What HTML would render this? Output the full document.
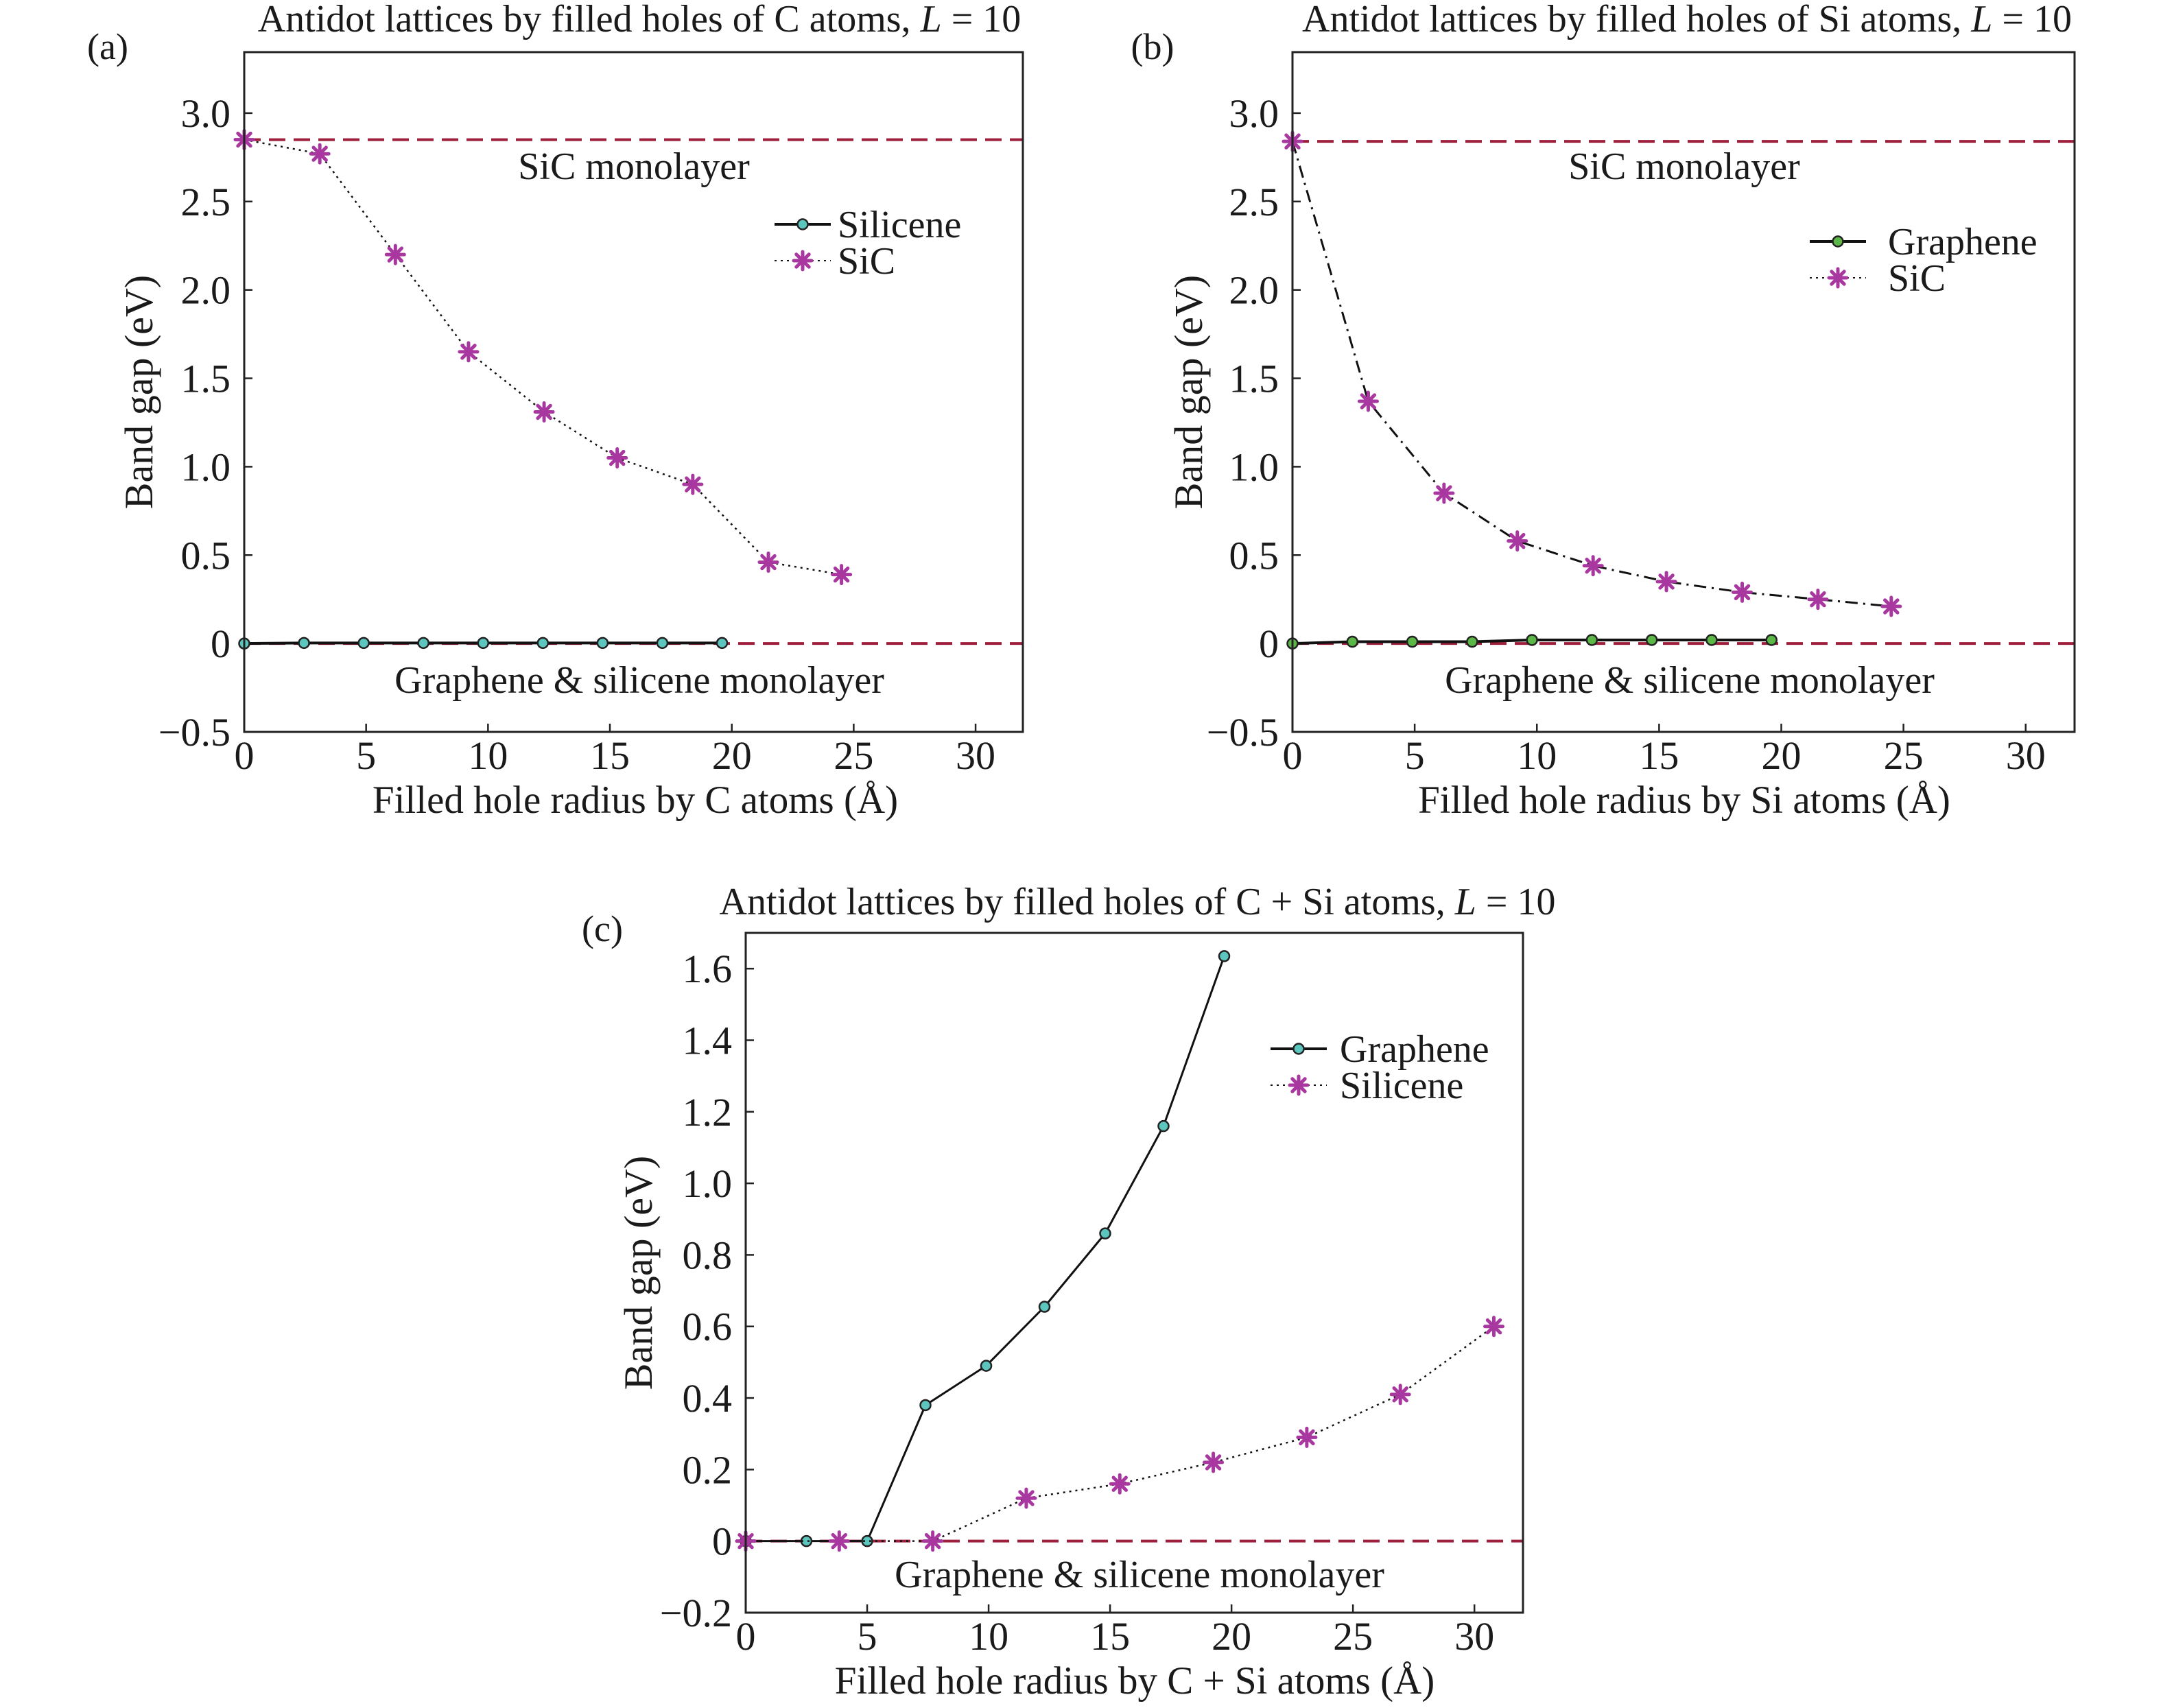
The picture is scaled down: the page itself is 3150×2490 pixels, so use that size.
<!DOCTYPE html>
<html><head><meta charset="utf-8"><style>
html,body{margin:0;padding:0;background:#fff}
svg{display:block}
text{font-family:"Liberation Serif",serif;fill:#1a1a1a}
</style></head><body>
<svg id="fig" width="3150" height="2490" viewBox="0 0 3150 2490" xmlns="http://www.w3.org/2000/svg"></svg>
<script>
// Panel (a) data
const aSilX=[0,2.45,4.9,7.35,9.8,12.25,14.7,17.15,19.6];
const aSilY=[0,0.003,0.003,0.003,0.003,0.003,0.003,0.003,0.003];
const aSicX=[0,3.1,6.2,9.2,12.3,15.3,18.4,21.5,24.5];
const aSicY=[2.85,2.77,2.20,1.65,1.31,1.05,0.90,0.46,0.39];
// Panel (b) data
const bGraX=[0,2.45,4.9,7.35,9.8,12.25,14.7,17.15,19.6];
const bGraY=[0,0.01,0.01,0.01,0.02,0.02,0.02,0.02,0.02];
const bSicX=[0,3.1,6.2,9.2,12.3,15.3,18.4,21.5,24.5];
const bSicY=[2.84,1.37,0.85,0.58,0.44,0.35,0.29,0.25,0.21];
// Panel (c) data
const cGraX=[0,2.5,5.0,7.4,9.9,12.3,14.8,17.2,19.7];
const cGraY=[0,0,0,0.38,0.49,0.655,0.86,1.16,1.635];
const cSilX=[0,3.85,7.7,11.55,15.4,19.25,23.1,26.95,30.8];
const cSilY=[0,0,0,0.12,0.16,0.22,0.29,0.41,0.60];
const xTicks=[0,5,10,15,20,25,30];
const yTicksAB=[-0.5,0,0.5,1.0,1.5,2.0,2.5,3.0];
const yTickLabAB=["\u22120.5","0","0.5","1.0","1.5","2.0","2.5","3.0"];
const yTicksC=[-0.2,0,0.2,0.4,0.6,0.8,1.0,1.2,1.4,1.6];
const yTickLabC=["\u22120.2","0","0.2","0.4","0.6","0.8","1.0","1.2","1.4","1.6"];

const NS="http://www.w3.org/2000/svg";
const svg=document.getElementById('fig');
function el(tag,attrs,parent,txt){const e=document.createElementNS(NS,tag);for(const k in attrs)e.setAttribute(k,attrs[k]);if(txt!==undefined)e.textContent=txt;(parent||svg).appendChild(e);return e;}
const RED="#9e1f3c", MAG="#a8379f";

function panel(o){
  const g=el('g',{});
  
  
  const sx=v=>o.L+(v-o.xmin)/(o.xmax-o.xmin)*(o.R-o.L);
  const sy=v=>o.B-(v-o.ymin)/(o.ymax-o.ymin)*(o.B-o.T);
  xTicks.forEach(t=>{
    const x=sx(t);
    const l=el('line',{x1:x,x2:x,y1:o.B,y2:o.B-12,stroke:'#222','stroke-width':2.5},g);
    
    const tx=el('text',{x:x,y:o.B+54,'font-size':58,'text-anchor':'middle'},g,String(t));
    
  });
  o.yt.forEach((t,i)=>{
    const y=sy(t);
    const l=el('line',{x1:o.L,x2:o.L+12,y1:y,y2:y,stroke:'#222','stroke-width':2.5},g);
    
    const tx=el('text',{x:o.L-20,y:y+20,'font-size':58,'text-anchor':'end'},g,o.ytl[i]);
    
  });
  o.refs.forEach(r=>{
    const l=el('line',{x1:o.L,x2:o.R,y1:sy(r),y2:sy(r),stroke:RED,'stroke-width':4,'stroke-dasharray':'24 12'},g);
    
  });
  o.series.forEach(s=>{
    const pts=s.x.map((v,i)=>sx(v)+','+sy(s.y[i])).join(' ');
    const pl=el('polyline',{points:pts,fill:'none',stroke:'#111','stroke-width':s.w,'stroke-dasharray':s.dash||''},g);
    
    s.x.forEach((v,i)=>{
      const m=marker(sx(v),sy(s.y[i]),s.mk,s.col,g);
      
    });
  });
  const f=el('rect',{x:o.L,y:o.T,width:o.R-o.L,height:o.B-o.T,fill:'none',stroke:'#222','stroke-width':3},g);
  
  const t=el('text',{x:o.tx,y:o.ty,'font-size':56,'text-anchor':'middle'},g);
  
  t.innerHTML=o.title+'<tspan font-style="italic">L</tspan> = 10';
  const p=el('text',{x:o.px,y:o.py,'font-size':54,'text-anchor':'middle'},g,o.plab);
  
  const yl=el('text',{x:0,y:0,'font-size':58,'text-anchor':'middle',transform:`translate(${o.ylx},${(o.T+o.B)/2}) rotate(-90)`},g,'Band gap (eV)');
  
  const xl=el('text',{x:o.xlx,y:o.B+118,'font-size':57,'text-anchor':'middle'},g,o.xlab);
  
  o.notes.forEach(n=>{
    const a=el('text',{x:n[0],y:n[1],'font-size':56,'text-anchor':'middle'},g,n[2]);
    
  });
  o.series.forEach((s,i)=>{
    const y=o.lgy+i*53;
    const lg=el('g',{},g);
    
    el('line',{x1:o.lgx,x2:o.lgx+82,y1:y,y2:y,stroke:'#111','stroke-width':s.leg?4:2,'stroke-dasharray':s.leg?'':'3 6'},lg);
    marker(o.lgx+41,y,s.mk,s.col,lg);
    el('text',{x:o.lgtx,y:y+19,'font-size':56},lg,s.label);
  });
}
function marker(x,y,type,col,parent){
  if(type==='c'){return el('circle',{cx:x,cy:y,r:7.5,fill:col,stroke:'#222','stroke-width':2.5},parent);}
  const g=el('g',{stroke:col,'stroke-width':5,'stroke-linecap':'round'},parent);
  const r=13;
  for(let k=0;k<4;k++){const a=k*Math.PI/4;el('line',{x1:x-r*Math.cos(a),y1:y-r*Math.sin(a),x2:x+r*Math.cos(a),y2:y+r*Math.sin(a)},g);}
  return g;
}
panel({name:'panel-a',L:356,R:1491,T:76,B:1067,xmin:0,xmax:31.94,ymin:-0.5,ymax:3.345,
  yt:yTicksAB,ytl:yTickLabAB,refs:[2.85,0],
  series:[{name:'silicene',x:aSilX,y:aSilY,mk:'c',col:'#5cc5bd',w:4,label:'Silicene',leg:true},
          {name:'sic',x:aSicX,y:aSicY,mk:'s',col:MAG,w:2.5,dash:'3 6',label:'SiC'}],
  title:'Antidot lattices by filled holes of C atoms, ',tx:932,ty:46,plab:'(a)',px:157,py:86,
  ylx:222,xlab:'Filled hole radius by C atoms (Å)',xlx:926,
  notes:[[924,261,'SiC monolayer'],[932,1010,'Graphene & silicene monolayer']],lgx:1129,lgy:327,lgtx:1221});
panel({name:'panel-b',L:1884,R:3024,T:76,B:1067,xmin:0,xmax:32.0,ymin:-0.5,ymax:3.345,
  yt:yTicksAB,ytl:yTickLabAB,refs:[2.84,0],
  series:[{name:'graphene',x:bGraX,y:bGraY,mk:'c',col:'#5cb846',w:4,label:'Graphene',leg:true},
          {name:'sic',x:bSicX,y:bSicY,mk:'s',col:MAG,w:3,dash:'18 8 3 8',label:'SiC'}],
  title:'Antidot lattices by filled holes of Si atoms, ',tx:2459,ty:46,plab:'(b)',px:1680,py:86,
  ylx:1752,xlab:'Filled hole radius by Si atoms (Å)',xlx:2455,
  notes:[[2455,261,'SiC monolayer'],[2463,1010,'Graphene & silicene monolayer']],lgx:2638,lgy:352,lgtx:2752});
panel({name:'panel-c',L:1087,R:2220,T:1360,B:2351,xmin:0,xmax:32,ymin:-0.2,ymax:1.70,
  yt:yTicksC,ytl:yTickLabC,refs:[0],
  series:[{name:'graphene',x:cGraX,y:cGraY,mk:'c',col:'#5cc5bd',w:3,label:'Graphene',leg:true},
          {name:'silicene',x:cSilX,y:cSilY,mk:'s',col:MAG,w:2.5,dash:'3 6',label:'Silicene'}],
  title:'Antidot lattices by filled holes of C + Si atoms, ',tx:1658,ty:1333,plab:'(c)',px:878,py:1372,
  ylx:950,xlab:'Filled hole radius by C + Si atoms (Å)',xlx:1654,
  notes:[[1661,2314,'Graphene & silicene monolayer']],lgx:1852,lgy:1529,lgtx:1953});
</script>
</body></html>
